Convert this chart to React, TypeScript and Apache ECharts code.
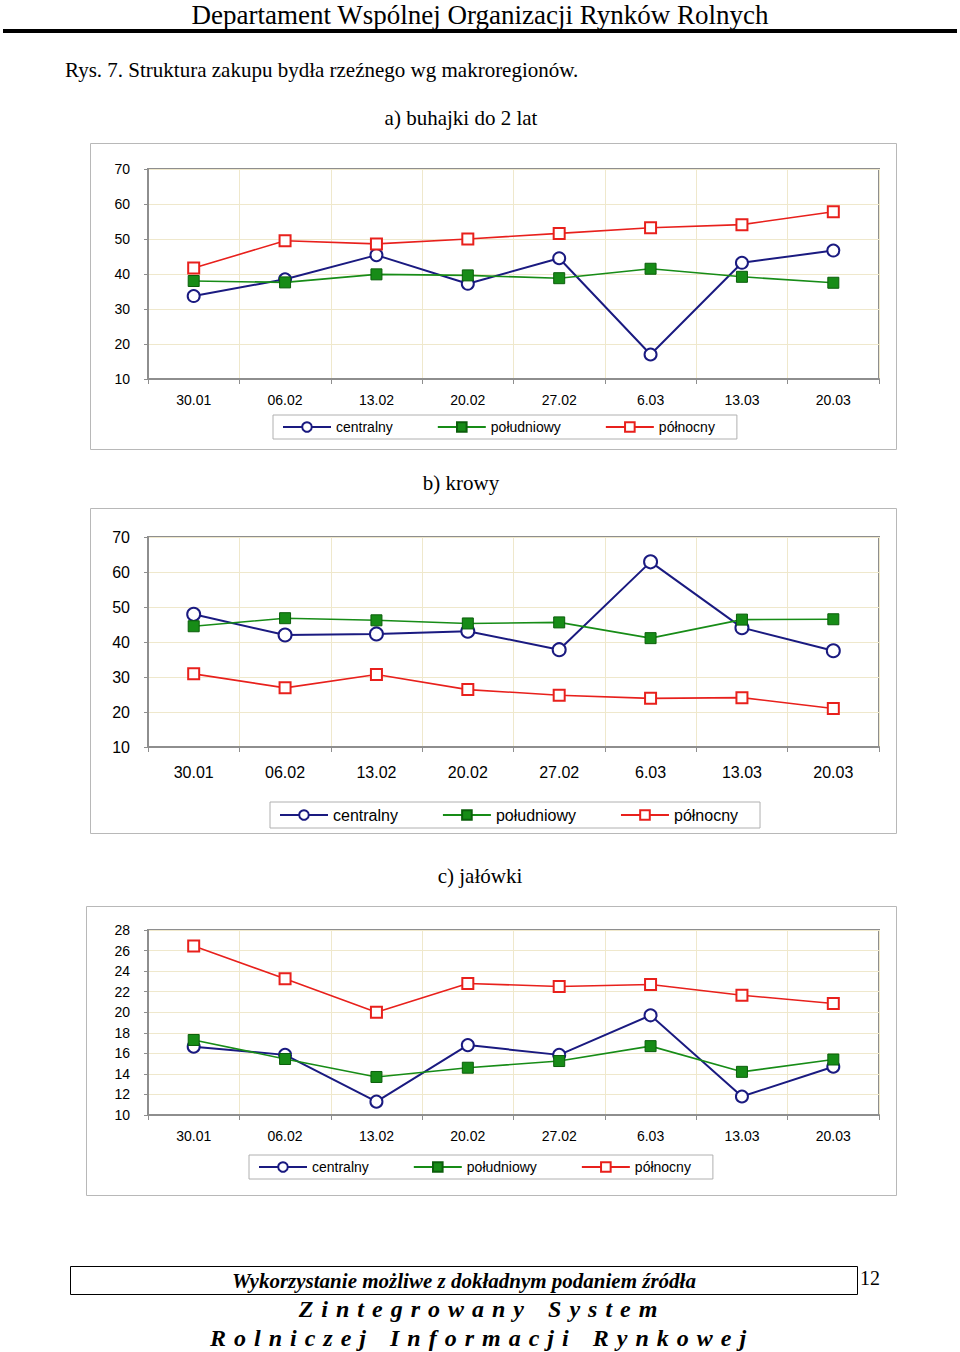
import React, { useEffect, useRef } from "react";
import * as echarts from "echarts";

const categories = ["30.01", "06.02", "13.02", "20.02", "27.02", "6.03", "13.03", "20.03"];
const seriesNames = ["centralny", "południowy", "północny"];

// a) buhajki do 2 lat
const aCentralny = [33.7, 38.5, 45.4, 37.2, 44.5, 17.0, 43.2, 46.7];
const aPoludniowy = [38.0, 37.6, 39.9, 39.6, 38.8, 41.5, 39.2, 37.5];
const aPolnocny = [41.7, 49.5, 48.6, 50.0, 51.6, 53.2, 54.1, 57.8];

// b) krowy
const bCentralny = [47.9, 42.0, 42.3, 43.1, 37.8, 62.9, 44.1, 37.5];
const bPoludniowy = [44.5, 46.8, 46.2, 45.3, 45.6, 41.1, 46.4, 46.5];
const bPolnocny = [30.9, 26.9, 30.7, 26.4, 24.8, 23.9, 24.1, 21.0];

// c) jałówki
const cCentralny = [16.65, 15.85, 11.3, 16.8, 15.85, 19.7, 11.8, 14.7];
const cPoludniowy = [17.3, 15.45, 13.7, 14.6, 15.25, 16.7, 14.2, 15.4];
const cPolnocny = [26.45, 23.25, 20.0, 22.8, 22.5, 22.7, 21.65, 20.85];

const yRanges = [
  { min: 10, max: 70, interval: 10 },
  { min: 10, max: 70, interval: 10 },
  { min: 10, max: 28, interval: 2 },
];

const SANS = "'Liberation Sans', Arial, sans-serif";
const SERIF = "'Liberation Serif', 'Times New Roman', serif";
const BLUE = "#1a1a80";
const GREEN = "#178c17";
const RED = "#e8201c";
const GRIDLINE = "#efe8cc";

const spaced = (s: string) => s.split(" ").map((w) => w.split("").join("\u2004")).join("\u2004\u2004\u2004");

export default function App() {
  const ref = useRef<HTMLDivElement>(null);

  useEffect(() => {
    if (!ref.current) return;
    const chart = echarts.init(ref.current, null, { renderer: "svg" });

    const grids = [
      { left: 148, top: 169, width: 731, height: 210 },
      { left: 148, top: 537, width: 731, height: 210 },
      { left: 148, top: 930, width: 731, height: 185 },
    ];
    const labelSizes = [14, 16, 14];
    const labelMargins = [14, 17, 14];
    const data = [
      [aCentralny, aPoludniowy, aPolnocny],
      [bCentralny, bPoludniowy, bPolnocny],
      [cCentralny, cPoludniowy, cPolnocny],
    ];
    const legendPos = [
      { left: 273, top: 415 },
      { left: 270, top: 802 },
      { left: 249, top: 1155 },
    ];

    const series: any[] = [];
    data.forEach((set, i) => {
      const symSize = i === 1 ? 13 : 12;
      series.push({
        name: seriesNames[0],
        type: "line",
        xAxisIndex: i,
        yAxisIndex: i,
        data: set[0],
        symbol: "emptyCircle",
        symbolSize: symSize,
        lineStyle: { color: BLUE, width: 2 },
        itemStyle: { color: BLUE, borderColor: BLUE, borderWidth: 2 },
        z: 3,
      });
      series.push({
        name: seriesNames[1],
        type: "line",
        xAxisIndex: i,
        yAxisIndex: i,
        data: set[1],
        symbol: "rect",
        symbolSize: 11,
        lineStyle: { color: GREEN, width: 1.6 },
        itemStyle: { color: GREEN, borderColor: "#0b5e0b", borderWidth: 1 },
        z: 4,
      });
      series.push({
        name: seriesNames[2],
        type: "line",
        xAxisIndex: i,
        yAxisIndex: i,
        data: set[2],
        symbol: "emptyRect",
        symbolSize: 11,
        lineStyle: { color: RED, width: 1.6 },
        itemStyle: { color: RED, borderColor: RED, borderWidth: 1.5 },
        z: 5,
      });
    });

    const outerBoxes = [
      { x: 90, y: 143, w: 806, h: 306 },
      { x: 90, y: 508, w: 806, h: 325 },
      { x: 86, y: 906, w: 810, h: 289 },
    ];

    const graphic: any[] = [
      {
        type: "text",
        x: 480,
        y: 1,
        style: {
          text: "Departament Wspólnej Organizacji Rynków Rolnych",
          font: `27px ${SERIF}`,
          fill: "#000",
          textAlign: "center",
        },
      },
      { type: "rect", shape: { x: 3, y: 29, width: 954, height: 4 }, style: { fill: "#000" } },
      {
        type: "text",
        x: 65,
        y: 59,
        style: { text: "Rys. 7. Struktura zakupu bydła rzeźnego wg makroregionów.", font: `21px ${SERIF}`, fill: "#000" },
      },
      {
        type: "text",
        x: 461,
        y: 107,
        style: { text: "a) buhajki do 2 lat", font: `21px ${SERIF}`, fill: "#000", textAlign: "center" },
      },
      {
        type: "text",
        x: 461,
        y: 472,
        style: { text: "b) krowy", font: `21px ${SERIF}`, fill: "#000", textAlign: "center" },
      },
      {
        type: "text",
        x: 480,
        y: 865,
        style: { text: "c) jałówki", font: `21px ${SERIF}`, fill: "#000", textAlign: "center" },
      },
      ...outerBoxes.map((b) => ({
        type: "rect",
        z: -1,
        shape: { x: b.x + 0.5, y: b.y + 0.5, width: b.w, height: b.h },
        style: { fill: "none", stroke: "#b8b8b8", lineWidth: 1 },
      })),
      {
        type: "rect",
        shape: { x: 70.5, y: 1266.5, width: 787, height: 28 },
        style: { fill: "none", stroke: "#000", lineWidth: 1 },
      },
      {
        type: "text",
        x: 464,
        y: 1270,
        style: {
          text: "Wykorzystanie możliwe z dokładnym podaniem źródła",
          font: `italic bold 21px ${SERIF}`,
          fill: "#000",
          textAlign: "center",
        },
      },
      {
        type: "text",
        x: 860,
        y: 1268,
        style: { text: "12", font: `20px ${SERIF}`, fill: "#000" },
      },
      {
        type: "text",
        x: 478,
        y: 1297,
        style: {
          text: spaced("Zintegrowany System"),
          font: `italic bold 24px ${SERIF}`,
          fill: "#000",
          textAlign: "center",
        },
      },
      {
        type: "text",
        x: 478,
        y: 1326,
        style: {
          text: spaced("Rolniczej Informacji Rynkowej"),
          font: `italic bold 24px ${SERIF}`,
          fill: "#000",
          textAlign: "center",
        },
      },
    ];

    chart.setOption({
      animation: false,
      backgroundColor: "#fff",
      grid: grids.map((g) => ({
        ...g,
        show: true,
        backgroundColor: "#fff",
        borderColor: "#8e8e8e",
        borderWidth: 2,
      })),
      xAxis: grids.map((_, i) => ({
        type: "category",
        gridIndex: i,
        data: categories,
        boundaryGap: true,
        axisLine: { show: true, lineStyle: { color: "#8e8e8e", width: 2 } },
        axisTick: { show: true, length: 5, lineStyle: { color: "#8e8e8e" } },
        axisLabel: {
          color: "#000",
          fontFamily: SANS,
          fontSize: labelSizes[i],
          margin: labelMargins[i],
        },
        splitLine: { show: true, lineStyle: { color: GRIDLINE, width: 1 } },
      })),
      yAxis: grids.map((_, i) => ({
        type: "value",
        gridIndex: i,
        min: yRanges[i].min,
        max: yRanges[i].max,
        interval: yRanges[i].interval,
        axisLine: { show: true, lineStyle: { color: "#8e8e8e", width: 2 } },
        axisTick: { show: true, length: 4, lineStyle: { color: "#8e8e8e" } },
        axisLabel: { color: "#000", fontFamily: SANS, fontSize: labelSizes[i], margin: 18 },
        splitLine: { show: true, lineStyle: { color: GRIDLINE, width: 1 } },
      })),
      legend: legendPos.map((p, i) => ({
        data: seriesNames,
        left: p.left,
        top: p.top,
        orient: "horizontal",
        itemWidth: 48,
        itemHeight: 12,
        itemGap: 44,
        padding: [5, 22, 5, 9],
        borderColor: "#b0b0b0",
        borderWidth: 1,
        selectedMode: false,
        textStyle: { color: "#000", fontFamily: SANS, fontSize: labelSizes[i] },
      })),
      series,
      graphic,
    });

    return () => chart.dispose();
  }, []);

  return (
    <div
      ref={ref}
      style={{ position: "absolute", left: 0, top: 0, width: 960, height: 1352, background: "#fff" }}
    />
  );
}
